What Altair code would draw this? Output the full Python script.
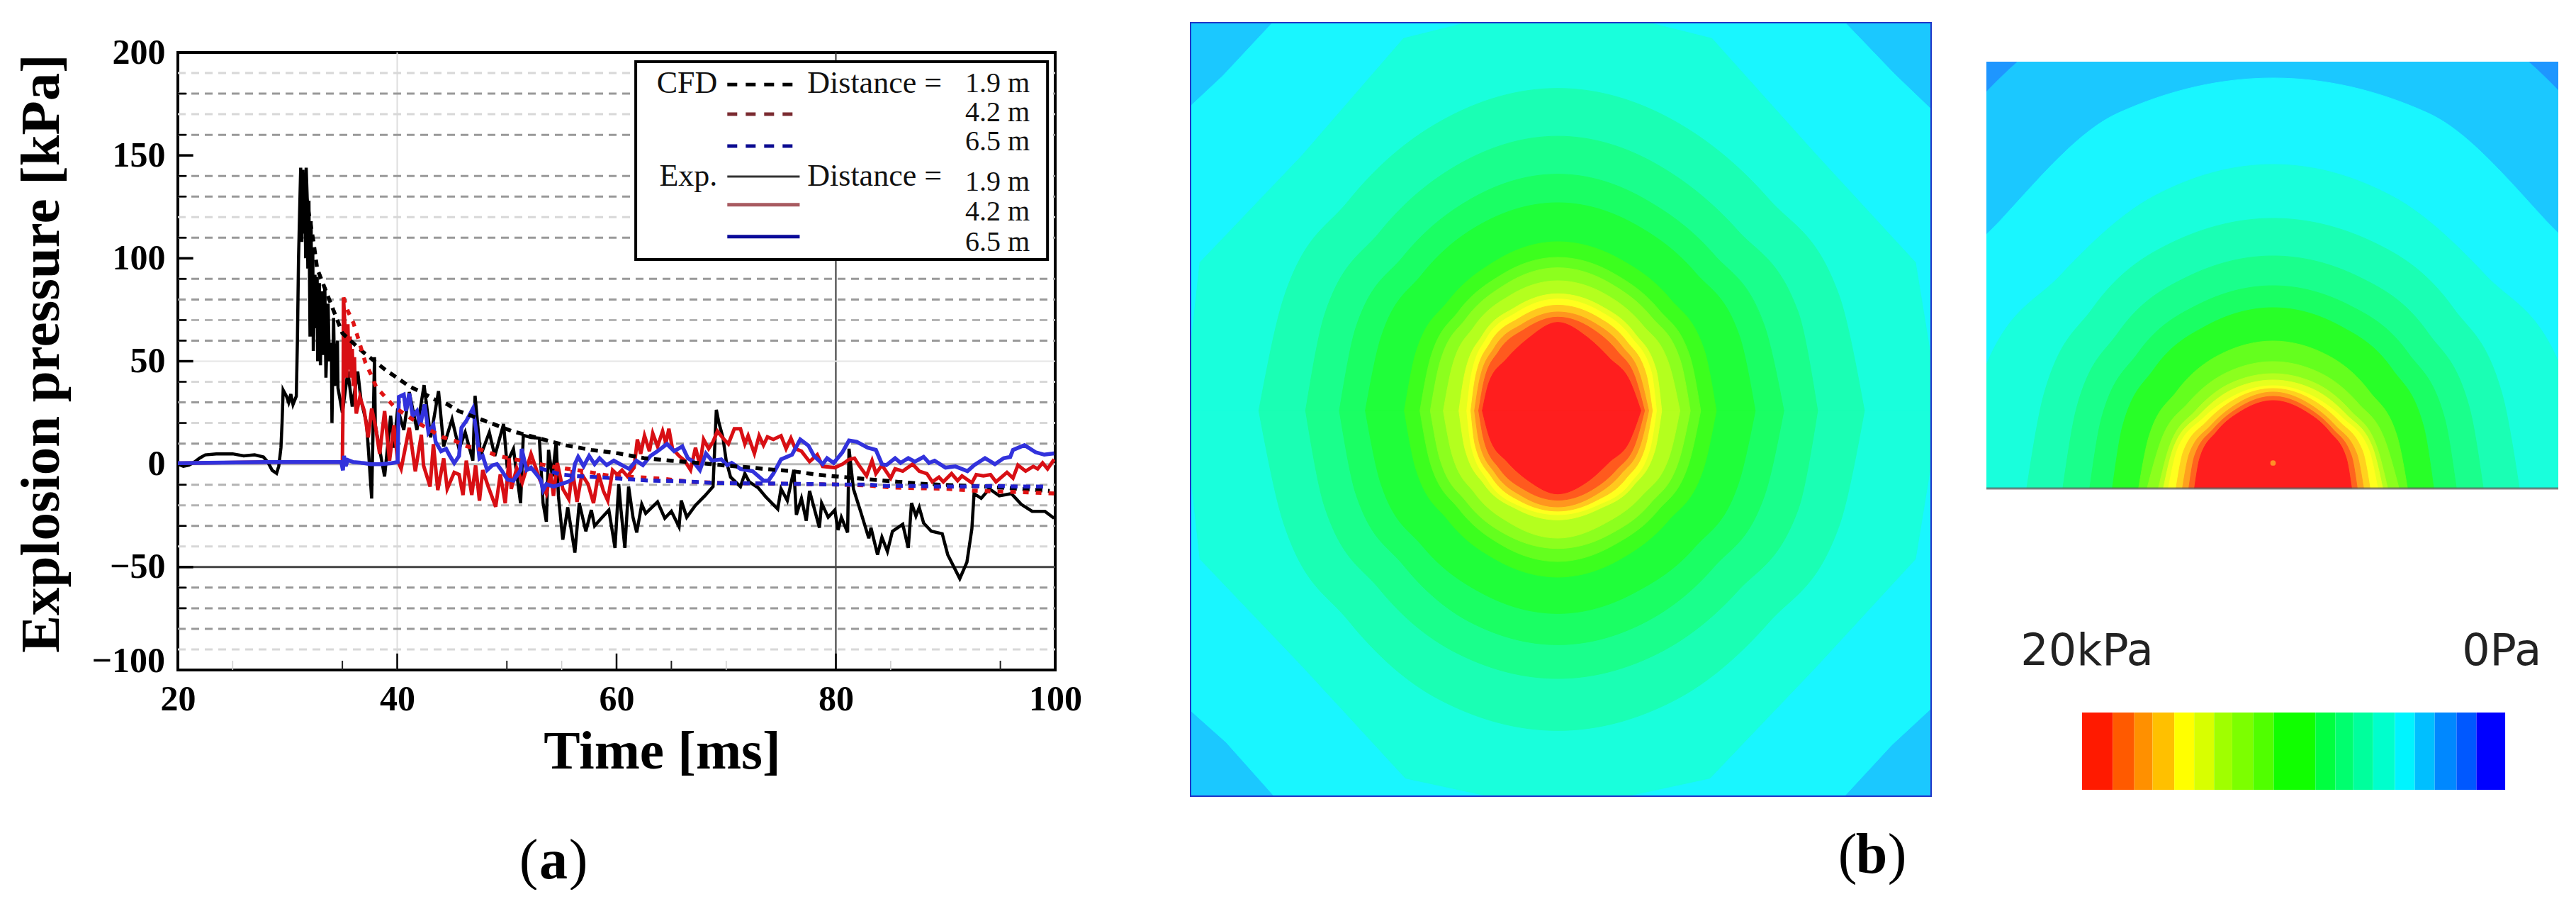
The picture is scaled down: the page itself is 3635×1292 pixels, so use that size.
import math
import altair as alt
import pandas as pd

SERIF = "Liberation Serif"

# ---------- panel (a): values (ms, kPa) ----------
EXP_19 = [(20,0),(20.5,-1),(21,-0.5),(21.5,1),(22,3),(22.5,4.5),(23.5,5),(25,5),(26,4),(27,4.5),(27.8,3.5),(28.2,1),(28.6,-3),(29,-4.5),(29.2,-1),(29.4,8),(29.5,20),(29.6,36),(29.9,33),(30.1,30),(30.3,34),(30.5,29),(30.8,33),(30.9,60),(31,99),(31.1,122),
(31.2,144),(31.3,108),(31.4,143),(31.5,112),(31.6,130),(31.65,100),(31.7,144),(31.8,128),(31.85,95),(31.95,128),(32.05,62),(32.15,118),(32.2,70),(32.3,105),(32.35,55),(32.5,92),(32.55,66),(32.7,91),(32.75,50),(32.9,88),(33,48),(33.1,84),(33.2,53),(33.4,86),(33.5,42),(33.7,78),(33.8,50),(34,59),(34.05,20),(34.2,71),(34.3,38),(34.55,60),(34.6,37),(35,25),(35.5,45),(35.9,28),(36.4,45),(36.7,31),(37.2,20),(37.4,5),(37.67,-16.7),(37.93,52),(38,19),(38.3,10),(38.85,-6),(39.4,23.5),(39.7,8),(40.04,27),(40.6,16.6),(41.1,35),(41.8,16.6),(42.45,38.4),(43.05,13),(43.77,35.5),(44.24,8.6),(45,21.8),(45.64,7.4),(46.2,15.4),(46.9,1.7),(47.1,33.2),(47.6,4),(48.4,15.4),(48.9,4),(49.7,19.5),(50,0.5),(50.6,7.4),(51.25,-19),(51.5,14),(52.2,13),(52.96,12.6),(53.3,-18.9),(53.6,-28),(53.8,6.9),(54.15,-6),(54.5,10.9),(54.7,-15.4),(55.1,-36.7),(55.55,-21),(56.2,-43),(56.6,-18.9),(57.2,-32.6),(57.7,-22.3),(58,-30),(58.7,-25.8),(59.3,-22.3),(59.86,-40.7),(60.2,-9.7),(60.4,-22),(60.76,-40.7),(61.1,-10.9),(61.5,-25.8),(61.84,-33.2),(62.3,-19.5),(62.66,-23.9),(63.74,-18.3),(64.4,-26.3),(65,-22.9),(65.7,-30.4),(65.9,-17.7),(66.4,-25.8),(67.2,-20),(68.05,-15.4),(68.8,-10.9),(69.1,26.4),(69.34,20),(69.7,13),(70,1.7),(70.4,-6.3),(71.3,-10.9),(71.7,-4.6),(72.1,-8.6),(72.9,-11.4),(73.63,-16),(74.7,-21.8),(75,-12),(75.57,-17.7),(76.17,-2.8),(76.4,-24.6),(76.86,-16.6),(77.3,-27.5),(77.6,-13),(78.5,-30.9),(78.7,-18.9),(79.3,-25.8),(79.9,-22.3),(80.2,-32),(80.5,-25.8),(81.07,-33.2),(81.2,7.5),(81.6,-12),(82.25,-22.9),(83,-36),(83.2,-30.9),(83.8,-44),(84.2,-35.5),(84.7,-42.4),(85.16,-32.6),(86.1,-29.2),(86.6,-40.7),(86.9,-18.9),(87.3,-25.2),(87.6,-21),(88,-28.6),(88.7,-32.6),(89.7,-33.8),(90.2,-44),(91.3,-55.6),(91.95,-47.6),(92.4,-31.5),(92.6,-14.3),(93.25,-16.6),(94,-12),(94.9,-15.4),(96,-14.3),(96.9,-19.5),(97.9,-22.9),(99.06,-22.9),(99.9,-26.3)]

EXP_42 = [(20,0.5),(28,1),(35,1),(35.08,40),(35.1,81),(35.3,60),(35.4,42),(35.5,68),(35.6,46),(35.7,62),(35.8,42),(35.9,56),(36,38),(36.1,52),(36.2,30),(36.27,24.6),(36.6,32.7),(37,25.8),(37.35,13),(37.67,27),(38,18.9),(38.4,5),(38.85,25.8),(39.3,1.7),(39.7,18.9),(40.04,1.7),(40.36,-2.3),(41.1,17.7),(41.65,-3.5),(42.2,14.3),(42.4,-0.6),(43,-10.9),(43.3,9.7),(43.7,-12.6),(44.24,2.8),(44.56,-12),(45.2,-4),(45.64,-5),(46,-15),(46.3,1.7),(46.8,-15),(47.15,-0.6),(47.5,-17.8),(47.8,-2.9),(48.3,-10.9),(48.98,-20.7),(49.4,-5),(49.85,-19),(50.2,2.8),(50.4,-12),(50.9,-2),(51.4,-9),(52.2,5),(53,-7.5),(53.6,-14.3),(54,-4.6),(54.25,-15.4),(54.6,0.6),(55.1,-12),(55.65,-17),(55.98,-2.9),(56.4,-18.3),(56.84,-5),(57.4,-9.7),(57.9,-18.9),(58.35,-4.6),(58.8,-13),(59.2,-17.7),(59.64,-2.9),(60.07,-5.1),(60.5,-2.9),(61,-6),(61.6,-1.7),(61.9,12),(62.2,5),(62.55,13.8),(63,6.3),(63.3,15),(63.74,8.6),(64.2,16),(64.5,10),(64.77,17.2),(65.1,7.5),(65.7,4),(66.2,1.8),(66.75,-2.9),(67.2,8),(67.6,-0.5),(67.94,12),(68.4,7.5),(68.8,10.9),(69.2,16),(69.8,12),(70.2,9.8),(70.74,17.2),(71.3,17.2),(71.7,9.8),(72,13.8),(72.57,5.2),(73,13.8),(73.4,9.2),(73.76,13.2),(74.3,12),(75,13.8),(75.46,7.5),(75.9,12.6),(76.3,7.5),(76.86,6.3),(77.6,1.2),(78.3,4.6),(78.8,-1.1),(79.9,-1.7),(80.6,0),(81.2,2.3),(81.7,2.9),(82.1,-0.5),(82.8,-5.7),(83.3,1.7),(83.65,-4.6),(84.2,-0.5),(85,-6.8),(85.4,-2.3),(86.1,-3.4),(87,0),(87.6,-3.4),(88.3,-4.6),(88.8,-8.6),(89.4,-6.3),(89.8,-8.6),(90.55,-4.6),(91.1,-8),(91.5,-5.7),(92.4,-9.1),(92.8,-5.1),(93.45,-5.7),(94.1,-5.1),(94.6,-8.6),(95.6,-4),(96.15,-6.8),(96.6,-0.5),(97.3,-3.4),(98,-1.1),(98.4,-2.3),(98.85,0.6),(99.3,-2.3),(99.9,2.3)]

EXP_65 = [(20,0.5),(28,1),(34.9,1),(35.05,-3),(35.15,4),(35.3,-1),(35.5,2),(36,1),(37,0.5),(37.6,0),(38.5,0),(39.5,0.5),(40.04,1),(40.15,32.7),(40.6,33.8),(40.8,25.8),(41.1,34.4),(41.4,23.5),(41.8,25.8),(42.1,18.9),(42.5,29),(42.85,15.4),(43.3,18.9),(43.5,10.9),(44,6.3),(44.46,7.4),(44.8,4),(45.2,0.5),(45.64,4),(45.86,17.7),(46.3,21),(46.9,27),(47.26,14.3),(47.5,2.8),(47.8,4),(48.2,-2.9),(48.66,-0.6),(49.1,0),(49.5,-2.9),(50.06,-7.5),(50.6,-8),(51.25,-2.9),(51.35,7.4),(51.8,-2.9),(52.2,-1.7),(52.65,-4.6),(53.08,-7.5),(53.3,-12.6),(53.6,-9.7),(54.25,-10.9),(54.9,-9.7),(55.55,-8.6),(55.98,-7.4),(56.2,0),(56.5,3.5),(57,-1),(57.5,4),(58,0),(58.45,2.9),(59.1,-0.5),(59.75,1.7),(60.5,-0.5),(61.15,-2.3),(61.8,1.7),(62.4,-0.5),(63.1,4),(63.74,6.3),(64.6,9.8),(65.25,6.3),(66,8.6),(66.5,2.9),(67,1.2),(67.6,-2.9),(68.15,5.2),(68.7,1.7),(69.55,2.3),(70.1,-0.5),(70.5,0.6),(71.3,-2.3),(72.4,-3.4),(73.4,-8),(73.85,-8),(74.3,-4.6),(75,2.3),(76,4.6),(76.75,12),(77.5,9),(78,4),(78.8,0),(79.2,2.9),(79.8,0.6),(80.6,5.8),(81.2,11.5),(81.9,10.9),(82.9,8),(83.65,6.9),(84.2,0),(84.6,-0.5),(85.4,2.9),(85.9,0.6),(86.6,2.9),(87.2,1.2),(88,3.5),(88.5,0.6),(89,1.7),(90,-1.7),(90.9,-1.1),(92,-3.4),(92.6,-0.5),(93.6,2.9),(94.5,0),(95.3,2.9),(95.9,3.5),(96.15,6.9),(97.2,9.2),(98.2,5.8),(99,4.6),(99.9,5.2)]

CFD_19 = [(31.5,136),(32.35,108.6),(32.7,95),(35,63.6),(36.9,54.4),(39,45.5),(40,41.9),(41.1,37.8),(42.2,35),(43.4,31.5),(44.5,29.3),(45.6,25.8),(48,21),(50.5,16),(52.9,12.6),(55.3,9.2),(57.7,6.9),(60.2,5.2),(62.5,2.9),(64.9,1.7),(67.4,0.6),(69.8,-0.6),(72.4,-1.7),(73.4,-2.3),(76,-3.4),(78.4,-5.2),(80.7,-6.3),(83.3,-7.5),(85.7,-8.6),(88.3,-9.7),(90.9,-10.3),(93.5,-10.9),(96,-11.7),(99.5,-13)]
CFD_42 = [(35.1,81),(35.5,74.4),(36,68.7),(36.4,61.8),(37.1,49.3),(37.6,43.6),(38.1,37.3),(38.9,32.7),(39.8,27.5),(40.9,23.5),(41.9,20),(43,16.6),(44.1,13.2),(45.2,11.4),(46.4,8.6),(47.7,6.9),(48.9,4.6),(50.2,2.8),(51.35,1.7),(52.5,0.5),(54.5,-1.5),(57.05,-3.4),(59.4,-5.7),(62,-6.3),(64.4,-7.2),(66.9,-8.6),(69.3,-9.1),(80.1,-9.9),(82.7,-10.3),(85.3,-11.4),(87.8,-11.7),(90.2,-12),(92.6,-12.9),(95.2,-13.4),(97.5,-13.7),(100,-14.3)]
CFD_65 = [(53,-2),(54.9,-5),(56.2,-5.7),(60,-6.9),(63.1,-8),(65.9,-8.3),(68.9,-9.1),(75.35,-9.5),(77.9,-9.7),(80.3,-9.9),(82.9,-9.9),(84.2,-10.5),(86.6,-10.5),(89,-10.9),(91.5,-10.9),(94.3,-10.6),(96.9,-10.9),(99.3,-10.9)]

GRID_DARK = [180,160,140,130,110,90,80,60,30,10,-30,-60,-70,-80]
GRID_MID = [70,-10,-20]
GRID_LIGHT = [190,170,120,40,20,-40,-90]
Y_LABELS = [200,150,100,50,0,-50]
X_LABELS = [20,40,60,80,100]
YTICK_MAJOR = [150,100,50,-50]
YTICK_MINOR = [180,160,140,130,110,90,70,60,40,20,-10,-30,-60,-70]
XTICK_MAJOR = [40,60,80]
XTICK_MINOR = [35,50,65,95]
XTICK_FAINT = [25,55,70,85]

LEGEND_BOX = [61.75, 99.3, 99.4, 195.5]
LEG_DASH = [(184.4,"#000000"),(170,"#7a2a30"),(154.5,"#0a0a90")]
LEG_SOLID = [(139.7,"#333333",3),(126,"#a85a60",5),(110.5,"#0a0a99",5)]
LEG_HEAD = [("CFD",69.2,184.8),("Exp.",69.2,139.7)]
LEG_DIST = [("Distance =",77.4,184.8),("Distance =",77.4,139.7)]
LEG_VAL = [("1.9 m",185),("4.2 m",170.7),("6.5 m",156.6),("1.9 m",137),("4.2 m",122.5),("6.5 m",107.7)]

# ---------- panels (b): contour bands ----------
# radii at 16 compass directions, counter-clockwise from east
BANDS_TOP = [
 ("#19f6ff",[1000,1000,916,1000,1000,1000,911,1000,1000,1000,902,1000,1000,1000,909,1000]),
 ("#19ffdc",[735,745,700,775,790,775,695,745,720,745,695,765,770,765,700,745]),
]
BANDS_TOP_SMOOTH = [
 ("#1affb4",[590,585,575,600,620,600,570,570,575,570,570,600,615,600,575,585]),
 ("#1aff8c",[500,500,490,510,528,510,485,485,485,485,485,505,515,505,490,500]),
 ("#1aff64",[435,430,425,440,455,440,420,420,420,420,420,440,450,440,425,430]),
 ("#1fff3a",[380,378,375,388,400,388,370,368,370,368,368,380,390,380,372,375]),
 ("#3cff1e",[305,305,305,315,325,312,298,295,295,295,298,310,320,310,300,302]),
 ("#64ff1e",[275,275,275,285,295,283,270,265,265,265,268,280,290,280,272,272]),
 ("#8cff1e",[255,255,255,265,275,263,250,245,245,245,248,258,265,258,252,252]),
 ("#b4ff1e",[235,232,232,242,250,240,228,220,220,220,225,235,245,235,230,232]),
 ("#e6ff1e",[200,205,210,218,225,215,205,193,190,193,200,205,210,205,205,202]),
 ("#ffff1e",[190,195,200,208,215,205,195,180,175,180,190,197,200,197,197,192]),
 ("#ffc81e",[182,184,188,196,203,193,184,171,167,172,180,188,193,188,185,182]),
 ("#ff961e",[175,172,175,183,190,180,172,162,160,163,170,178,185,178,172,172]),
 ("#ff5a1e",[167,162,162,171,180,169,161,153,152,153,158,165,172,166,160,162]),
 ("#ff1e1e",[160,150,142,152,170,150,140,143,145,141,138,146,160,148,140,150]),
]
# radii at 0, 22.5, 45, 67.5 and 90 degrees above the floor; the field is mirrored about its centre
BANDS_SIDE = [
 ("#1bc8ff",[690,680,675,715,720]),
 ("#19f6ff",[600,560,540,573,579]),
 ("#19ffdc",[440,441,425,445,457]),
 ("#1affb4",[348,350,360,375,381]),
 ("#1aff8c",[297,300,310,322,328]),
 ("#1aff64",[259,262,270,280,286]),
 ("#28ff28",[227,230,238,248,255]),
 ("#64ff1e",[190,190,193,203,208]),
 ("#8cff1e",[178,172,170,176,179]),
 ("#b4ff1e",[162,158,155,160,162]),
 ("#e6ff1e",[155,152,147,151,153]),
 ("#ffff1e",[148,146,140,142,145]),
 ("#ffd21e",[137,137,133,137,141]),
 ("#ffa01e",[128,128,125,130,136]),
 ("#ff641e",[119,120,119,124,130]),
 ("#ff1e1e",[111,112,113,118,124]),
]
SPECK = (0, 36)

BAR_EDGES = [20,18.55,17.53,16.67,15.64,14.7,13.76,12.9,11.9,10.94,8.97,8.03,7.18,6.24,5.21,4.27,3.33,2.3,1.36,0]
BAR_COLORS = ["#ff1a00","#ff5a00","#ff9000","#ffc000","#ffff00","#d8ff00","#a0ff00","#7cff00","#50ff00","#10ff00","#00ff40","#00ff6e","#00ff9c","#00ffcc","#00f4ff","#00bfff","#0088ff","#0058ff","#0000ff"]

# ---------- helpers ----------
def spacer(w, h):
    return alt.Chart(pd.DataFrame({"v":[0]})).mark_point(opacity=0).encode(
        x=alt.X("v:Q", axis=None), y=alt.Y("v:Q", axis=None)).properties(width=w, height=h)

SX = alt.Scale(domain=[20,100], nice=False, zero=False)
SY = alt.Scale(domain=[-100,200], nice=False, zero=False)
AX_X = alt.Axis(values=X_LABELS, ticks=False, domain=False, grid=False,
        labelFont=SERIF, labelFontSize=50, labelFontWeight="bold", labelColor="black", labelPadding=16, labelFlush=False,
        format="d", title="Time [ms]", titleFont=SERIF, titleFontSize=77, titleFontWeight="bold", titleColor="black",
        titleX=683, titleY=115, titleBaseline="middle")
AX_Y = alt.Axis(values=Y_LABELS, ticks=False, domain=False, grid=False,
        labelFont=SERIF, labelFontSize=50, labelFontWeight="bold", labelColor="black", labelPadding=18, labelFlush=False,
        format="d", title="Explosion pressure [kPa]", titleFont=SERIF, titleFontSize=79, titleFontWeight="bold", titleColor="black",
        titleX=-193, titleY=424, titleBaseline="middle")
X = lambda f: alt.X(f, scale=SX, axis=AX_X)
Y = lambda f: alt.Y(f, scale=SY, axis=AX_Y)

def series(pairs):
    return pd.DataFrame({"t":[p[0] for p in pairs], "p":[p[1] for p in pairs], "i":range(len(pairs))})

def line(pairs, color, width, dash=None):
    kw = {"strokeDash": dash} if dash else {}
    return alt.Chart(series(pairs)).mark_line(color=color, strokeWidth=width, clip=True, **kw).encode(
        x=X("t:Q"), y=Y("p:Q"), order="i:Q")

def hrules(vals, color, width, dash=None):
    kw = {"strokeDash": dash} if dash else {}
    d = pd.DataFrame({"y":vals, "a":[20]*len(vals), "b":[100]*len(vals)})
    return alt.Chart(d).mark_rule(color=color, strokeWidth=width, **kw).encode(x=X("a:Q"), x2="b:Q", y=Y("y:Q"))

def vrules(vals, color, width):
    d = pd.DataFrame({"x":vals, "a":[-100]*len(vals), "b":[200]*len(vals)})
    return alt.Chart(d).mark_rule(color=color, strokeWidth=width).encode(x=X("x:Q"), y=Y("a:Q"), y2="b:Q")

def yticks(vals, length, width):
    d = pd.DataFrame({"y":vals, "a":[20]*len(vals), "b":[20+length]*len(vals)})
    return alt.Chart(d).mark_rule(color="black", strokeWidth=width).encode(x=X("a:Q"), x2="b:Q", y=Y("y:Q"))

def xticks(vals, length, color, width):
    d = pd.DataFrame({"x":vals, "a":[-100]*len(vals), "b":[-100+length]*len(vals)})
    return alt.Chart(d).mark_rule(color=color, strokeWidth=width).encode(x=X("x:Q"), y=Y("a:Q"), y2="b:Q")

low_label = alt.Chart(pd.DataFrame({"t":[20],"p":[-100],"s":["\u2212100"]})).mark_text(
    font=SERIF, fontSize=50, fontWeight="bold", align="right", baseline="middle", dx=-18, dy=-12, color="black"
).encode(x=X("t:Q"), y=Y("p:Q"), text="s:N")

lb = pd.DataFrame({"a":[LEGEND_BOX[0]],"b":[LEGEND_BOX[1]],"c":[LEGEND_BOX[2]],"d":[LEGEND_BOX[3]]})
legend_layers = [alt.Chart(lb).mark_rect(fill="white", stroke="black", strokeWidth=4).encode(
    x=X("a:Q"), x2="b:Q", y=Y("c:Q"), y2="d:Q")]
for y, c in LEG_DASH:
    legend_layers.append(alt.Chart(pd.DataFrame({"a":[70.1],"b":[76.2],"y":[y]})).mark_rule(color=c, strokeWidth=5, strokeDash=[14,12]).encode(
        x=X("a:Q"), x2="b:Q", y=Y("y:Q")))
for y, c, w in LEG_SOLID:
    legend_layers.append(alt.Chart(pd.DataFrame({"a":[70.1],"b":[76.7],"y":[y]})).mark_rule(color=c, strokeWidth=w).encode(
        x=X("a:Q"), x2="b:Q", y=Y("y:Q")))
head = pd.DataFrame(LEG_HEAD, columns=["s","x","y"])
dist = pd.DataFrame(LEG_DIST, columns=["s","x","y"])
vals = pd.DataFrame(LEG_VAL, columns=["s","y"]); vals["x"] = 91.8
legend_layers += [
    alt.Chart(head).mark_text(font=SERIF, fontSize=44, align="right", baseline="middle", color="#111").encode(x=X("x:Q"), y=Y("y:Q"), text="s:N"),
    alt.Chart(dist).mark_text(font=SERIF, fontSize=44, align="left", baseline="middle", color="#111").encode(x=X("x:Q"), y=Y("y:Q"), text="s:N"),
    alt.Chart(vals).mark_text(font=SERIF, fontSize=40, align="left", baseline="middle", color="#111").encode(x=X("x:Q"), y=Y("y:Q"), text="s:N"),
]

panel_a = alt.layer(
    vrules([40], "#dddddd", 2), vrules([80], "#333333", 2),
    hrules(GRID_LIGHT, "#d8d8d8", 3, [11,8]), hrules(GRID_MID, "#b4b4b4", 3, [11,8]), hrules(GRID_DARK, "#999999", 3, [11,8]),
    hrules([50], "#e6e6e6", 2), hrules([0], "#bbbbbb", 3), hrules([-50], "#444444", 3),
    yticks(YTICK_MAJOR, 1.4, 3.5), yticks(YTICK_MINOR, 0.8, 2.5),
    xticks(XTICK_MAJOR, 8, "black", 2.5), xticks(XTICK_MINOR, 4.5, "#222222", 2), xticks(XTICK_FAINT, 4.5, "#cccccc", 1.5),
    line(EXP_19, "#000000", 4.5), line(EXP_42, "#d80f14", 5), line(EXP_65, "#3232dc", 5.5),
    line(CFD_19, "#000000", 5.5, [10,8]), line(CFD_42, "#e01414", 5.5, [8,10]), line(CFD_65, "#2222cc", 5.5, [10,8]),
    low_label, *legend_layers,
).properties(width=1238, height=871, view=alt.ViewBackground(stroke="black", strokeWidth=4))

# contour helpers
def top_table(bands, n=16, start=0):
    rows = []
    for b, (color, radii) in enumerate(bands):
        for k, r in enumerate(radii):
            a = math.radians(k * 360 / n)
            x, y = r * math.cos(a), r * math.sin(a)
            if k <= n // 2:
                rows.append((f"{start+b:02d}u", color, x, y, 0.0))
            if k >= n // 2:
                rows.append((f"{start+b:02d}l", color, x, y, 0.0))
        rows.append((f"{start+b:02d}l", color, radii[0], 0.0, 0.0))
    return pd.DataFrame(rows, columns=["k","c","x","y","z"])

def side_table(bands):
    rows = []
    for b, (color, radii) in enumerate(bands):
        full = radii + radii[-2::-1]
        for k, r in enumerate(full):
            a = math.radians(k * 22.5)
            rows.append((f"{b:02d}", color, r * math.cos(a), r * math.sin(a), 0.0))
    return pd.DataFrame(rows, columns=["k","c","x","y","z"])

def contour(table, sx, sy, interp):
    return alt.Chart(table).mark_area(clip=True, interpolate=interp, orient="vertical", strokeWidth=1).encode(
        x=alt.X("x:Q", scale=sx, axis=None),
        y=alt.Y("y:Q", scale=sy, axis=None, stack=None),
        y2="z:Q",
        detail="k:N",
        fill=alt.Fill("c:N", scale=None),
        stroke=alt.Stroke("c:N", scale=None),
    )

TOP_X = alt.Scale(domain=[-705,717], nice=False, zero=False)
TOP_Y = alt.Scale(domain=[-740,745], nice=False, zero=False)
frame_b = alt.Chart(pd.DataFrame({"a":[-705],"b":[717],"c":[-740],"d":[745]})).mark_rect(fill="#1bc8ff").encode(
    x=alt.X("a:Q", scale=TOP_X, axis=None), x2="b:Q", y=alt.Y("c:Q", scale=TOP_Y, axis=None), y2="d:Q")
panel_b = alt.layer(
    frame_b,
    contour(top_table(BANDS_TOP), TOP_X, TOP_Y, "linear"),
    contour(top_table(BANDS_TOP_SMOOTH, start=10), TOP_X, TOP_Y, "monotone"),
).properties(width=1043, height=1089, view=alt.ViewBackground(stroke="#1f35c8", strokeWidth=4))

SIDE_X = alt.Scale(domain=[-405,403], nice=False, zero=False)
SIDE_Y = alt.Scale(domain=[0,602], nice=False, zero=False)
base_c = alt.Chart(pd.DataFrame({"a":[-405],"b":[403],"c":[0],"d":[602]})).mark_rect(fill="#1e96ff").encode(
    x=alt.X("a:Q", scale=SIDE_X, axis=None), x2="b:Q", y=alt.Y("c:Q", scale=SIDE_Y, axis=None), y2="d:Q")
speck = alt.Chart(pd.DataFrame({"x":[SPECK[0]],"y":[SPECK[1]]})).mark_point(filled=True, size=60, color="#ff9a28", opacity=0.9).encode(
    x=alt.X("x:Q", scale=SIDE_X, axis=None), y=alt.Y("y:Q", scale=SIDE_Y, axis=None))
fd = pd.DataFrame({"a":[-405],"b":[403],"y":[0]})
floor = alt.Chart(fd).mark_rule(color="#555555", strokeWidth=3, opacity=0.7).encode(
    x=alt.X("a:Q", scale=SIDE_X, axis=None), x2="b:Q", y=alt.Y("y:Q", scale=SIDE_Y, axis=None))
panel_c = alt.layer(base_c, contour(side_table(BANDS_SIDE), SIDE_X, SIDE_Y, "monotone"), speck, floor).properties(width=807, height=602)

# colour bar
BX = alt.Scale(domain=[24.52,-2.51], nice=False, zero=False)
BY = alt.Scale(domain=[0,425], nice=False, zero=False)
bar = pd.DataFrame({"a":BAR_EDGES[:-1],"b":BAR_EDGES[1:],"c":BAR_COLORS,"y0":[0]*len(BAR_COLORS),"y1":[109]*len(BAR_COLORS)})
bar_rect = alt.Chart(bar).mark_rect().encode(
    x=alt.X("a:Q", scale=BX, axis=None), x2="b:Q",
    y=alt.Y("y0:Q", scale=BY, axis=None), y2="y1:Q",
    fill=alt.Fill("c:N", scale=None))
bar_text = alt.Chart(pd.DataFrame({"s":["20kPa","0Pa"],"x":[22.9,2.04],"y":[195,195]})).mark_text(
    font="DejaVu Sans", fontSize=62, align="left", baseline="middle", color="#222").encode(
    x=alt.X("x:Q", scale=BX, axis=None), y=alt.Y("y:Q", scale=BY, axis=None), text="s:N")
panel_bar = alt.layer(bar_rect, bar_text).properties(width=807, height=425)

# captions
def caption(letter, xs, width):
    d = pd.DataFrame({"s":["(",")"], "x":[xs[0],xs[2]], "y":[0,0]})
    sx = alt.Scale(domain=[0,width], nice=False, zero=False)
    sy = alt.Scale(domain=[-1,1], nice=False, zero=False)
    par = alt.Chart(d).mark_text(font=SERIF, fontSize=80, baseline="middle").encode(
        x=alt.X("x:Q", scale=sx, axis=None), y=alt.Y("y:Q", scale=sy, axis=None), text="s:N")
    let = alt.Chart(pd.DataFrame({"s":[letter],"x":[xs[1]],"y":[0]})).mark_text(font=SERIF, fontSize=80, fontWeight="bold", baseline="middle").encode(
        x=alt.X("x:Q", scale=sx, axis=None), y=alt.Y("y:Q", scale=sy, axis=None), text="s:N")
    return alt.layer(par, let).properties(width=width, height=80)

col_a = alt.vconcat(spacer(1238,66), panel_a, spacer(1238,230), caption("a",(495,530,565),1238), spacing=0, bounds="flush")
col_b = alt.vconcat(spacer(1043,25), panel_b, spacer(1043,45), caption("b",(926,960,996),1043), spacing=0, bounds="flush")
col_c = alt.vconcat(spacer(807,79), panel_c, panel_bar, spacing=0, bounds="flush")

chart = alt.hconcat(col_a, spacer(150,10), col_b, spacer(75,10), col_c, spacing=0).properties(
    padding={"left":8,"top":0,"right":0,"bottom":0}
).configure_view(stroke=None)

chart.save("out.html", embed_options={"renderer": "svg", "actions": False})
